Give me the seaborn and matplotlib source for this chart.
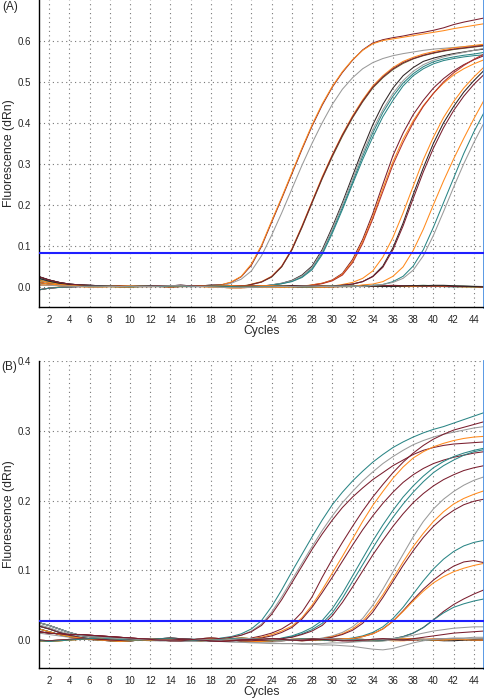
import matplotlib
matplotlib.use('Agg')
import matplotlib.pyplot as plt
from matplotlib.ticker import MultipleLocator, FormatStrFormatter
import seaborn as sns
import pandas as pd

cycles = list(range(1, 46))

# ---------------- panel A ----------------
thr_a = 0.083

a_base1 = [0.024, 0.016, 0.010, 0.006, 0.004, 0.003, 0.002, 0.002, 0.001, 0.001, 0.001, 0.002, 0.002, 0.002, 0.003,
           0.002, 0.002, 0.003, 0.003, 0.002, 0.002, 0.001, 0.001, 0.000, 0.000, 0.001, 0.001, 0.000, 0.000, 0.001,
           0.001, 0.002, 0.002, 0.001, 0.001, 0.002, 0.002, 0.001, 0.001, 0.000, 0.000, -0.001, -0.001, -0.002, -0.002]
a_base2 = [0.015, 0.010, 0.006, 0.004, 0.002, 0.001, 0.000, 0.000, -0.001, -0.001, 0.000, 0.001, 0.001, 0.001, 0.002,
           0.001, 0.001, 0.002, 0.002, 0.001, 0.000, -0.001, -0.002, -0.002, -0.002, -0.001, 0.000, 0.000, 0.001, 0.001,
           0.000, 0.000, 0.001, 0.002, 0.002, 0.001, 0.001, 0.002, 0.003, 0.002, 0.002, 0.001, 0.001, 0.000, 0.000]
a_base3 = [-0.008, -0.004, -0.002, -0.001, 0.000, 0.001, 0.001, 0.001, 0.000, 0.000, 0.001, 0.001, 0.000, 0.001, 0.001,
           0.000, 0.000, 0.001, 0.001, 0.000, -0.001, -0.001, 0.000, 0.000, 0.001, 0.000, -0.001, -0.001, 0.000, 0.001,
           0.001, 0.001, 0.000, 0.000, 0.001, 0.001, 0.002, 0.002, 0.001, 0.001, 0.000, 0.000, 0.001, 0.001, 0.000]
a_base4 = [0.004, 0.003, 0.002, 0.001, 0.000, -0.001, -0.001, 0.000, 0.000, 0.001, 0.000, 0.000, 0.001, 0.002, 0.002,
           0.001, 0.000, -0.001, -0.002, -0.003, -0.003, -0.002, -0.001, -0.001, 0.000, 0.000, 0.001, 0.001, 0.000, 0.000,
           0.001, 0.001, 0.000, 0.001, 0.001, 0.001, 0.000, 0.000, 0.001, 0.001, 0.000, 0.000, -0.001, -0.001, -0.002]
a_base5 = [0.020, 0.013, 0.008, 0.005, 0.003, 0.002, 0.001, 0.001, 0.000, 0.000, 0.000, 0.000, 0.001, 0.001, 0.001,
           0.001, 0.002, 0.002, 0.001, 0.001, 0.000, 0.000, 0.000, 0.001, 0.001, 0.002, 0.002, 0.001, 0.001, 0.000,
           0.000, 0.000, 0.001, 0.001, 0.002, 0.003, 0.002, 0.002, 0.001, 0.001, 0.001, 0.000, 0.000, 0.000, -0.001]
a_base6 = [0.010, 0.006, 0.004, 0.002, 0.001, 0.000, 0.000, 0.001, 0.001, 0.002, 0.001, 0.000, 0.000, -0.001, 0.000,
           0.000, 0.001, 0.001, 0.002, 0.002, 0.001, 0.001, 0.002, 0.002, 0.001, 0.000, -0.001, -0.002, -0.002, -0.001,
           0.000, 0.000, 0.001, 0.001, 0.000, 0.000, 0.001, 0.002, 0.002, 0.003, 0.003, 0.002, 0.001, 0.000, -0.001]

# flat wells: name -> baseline
a_flat = {'A_n1': a_base1, 'A_n2': a_base2, 'A_n3': a_base3, 'A_n4': a_base4, 'A_n5': a_base5, 'A_n6': a_base6}

# amplifying wells: name -> (baseline before rise, first cycle of rise, values from that cycle to 45)
a_amp = {
    'A01': (a_base1, 19, [0.004, 0.010, 0.024, 0.052, 0.098, 0.157, 0.215, 0.275, 0.335, 0.392, 0.443, 0.487, 0.523,
                          0.553, 0.578, 0.595, 0.603, 0.608, 0.612, 0.617, 0.621, 0.626, 0.632, 0.640, 0.646, 0.651, 0.656]),
    'A02': (a_base2, 19, [0.004, 0.011, 0.025, 0.055, 0.101, 0.160, 0.218, 0.278, 0.338, 0.395, 0.446, 0.489, 0.525,
                          0.554, 0.577, 0.593, 0.601, 0.605, 0.609, 0.613, 0.617, 0.621, 0.625, 0.630, 0.634, 0.638, 0.642]),
    'A03': (a_base5, 20, [0.008, 0.018, 0.038, 0.075, 0.125, 0.180, 0.238, 0.296, 0.350, 0.400, 0.445, 0.482, 0.510,
                          0.532, 0.547, 0.557, 0.564, 0.569, 0.573, 0.577, 0.580, 0.582, 0.584, 0.586, 0.588, 0.590]),
    'A04': (a_base4, 22, [0.006, 0.012, 0.025, 0.050, 0.092, 0.148, 0.208, 0.268, 0.322, 0.372, 0.417, 0.456, 0.490,
                          0.515, 0.535, 0.550, 0.560, 0.568, 0.574, 0.579, 0.583, 0.586, 0.589, 0.592]),
    'A05': (a_base6, 22, [0.005, 0.011, 0.023, 0.048, 0.089, 0.144, 0.204, 0.263, 0.317, 0.367, 0.412, 0.451, 0.485,
                          0.510, 0.530, 0.545, 0.556, 0.564, 0.570, 0.575, 0.579, 0.582, 0.585, 0.588]),
    'A06': (a_base3, 22, [0.005, 0.011, 0.024, 0.049, 0.090, 0.146, 0.206, 0.265, 0.320, 0.370, 0.414, 0.453, 0.487,
                          0.512, 0.532, 0.547, 0.557, 0.565, 0.571, 0.576, 0.580, 0.583, 0.586, 0.589]),
    'A07': (a_base1, 24, [0.004, 0.008, 0.015, 0.028, 0.050, 0.090, 0.145, 0.205, 0.270, 0.335, 0.395, 0.445, 0.485,
                          0.515, 0.535, 0.550, 0.558, 0.564, 0.569, 0.573, 0.577, 0.580]),
    'A08': (a_base2, 24, [0.004, 0.007, 0.013, 0.024, 0.044, 0.082, 0.135, 0.193, 0.255, 0.318, 0.375, 0.425, 0.465,
                          0.497, 0.520, 0.537, 0.549, 0.556, 0.561, 0.565, 0.568, 0.572]),
    'A09': (a_base3, 24, [0.004, 0.008, 0.014, 0.026, 0.047, 0.086, 0.140, 0.200, 0.262, 0.325, 0.383, 0.432, 0.472,
                          0.503, 0.526, 0.542, 0.553, 0.561, 0.567, 0.572, 0.577, 0.582]),
    'A10': (a_base5, 24, [0.003, 0.007, 0.012, 0.022, 0.041, 0.078, 0.130, 0.188, 0.250, 0.310, 0.365, 0.415, 0.455,
                          0.490, 0.515, 0.532, 0.544, 0.552, 0.557, 0.561, 0.564, 0.566]),
    'A11': (a_base6, 28, [0.004, 0.008, 0.016, 0.032, 0.066, 0.115, 0.178, 0.250, 0.320, 0.375, 0.420, 0.455, 0.485,
                          0.508, 0.527, 0.542, 0.554, 0.564]),
    'A12': (a_base4, 28, [0.004, 0.008, 0.015, 0.030, 0.062, 0.110, 0.170, 0.240, 0.305, 0.360, 0.405, 0.442, 0.472,
                          0.497, 0.517, 0.532, 0.544, 0.554]),
    'A13': (a_base3, 28, [0.003, 0.007, 0.014, 0.028, 0.058, 0.105, 0.165, 0.232, 0.298, 0.352, 0.400, 0.440, 0.472,
                          0.500, 0.522, 0.540, 0.555, 0.568]),
    'A14': (a_base2, 31, [0.005, 0.010, 0.020, 0.038, 0.072, 0.120, 0.180, 0.245, 0.310, 0.365, 0.413, 0.452, 0.485,
                          0.512, 0.536]),
    'A15': (a_base5, 31, [0.003, 0.006, 0.012, 0.025, 0.050, 0.095, 0.155, 0.225, 0.290, 0.350, 0.400, 0.440, 0.475,
                          0.503, 0.528]),
    'A16': (a_base1, 31, [0.003, 0.006, 0.012, 0.024, 0.047, 0.090, 0.148, 0.215, 0.280, 0.338, 0.388, 0.430, 0.465,
                          0.494, 0.518]),
    'A17': (a_base6, 33, [0.004, 0.006, 0.012, 0.025, 0.048, 0.088, 0.140, 0.200, 0.258, 0.312, 0.362, 0.410, 0.455]),
    'A18': (a_base3, 34, [0.003, 0.005, 0.012, 0.025, 0.050, 0.090, 0.145, 0.205, 0.265, 0.325, 0.378, 0.425]),
    'A19': (a_base4, 34, [0.003, 0.005, 0.010, 0.020, 0.040, 0.075, 0.125, 0.183, 0.243, 0.300, 0.352, 0.400]),
}

# ---------------- panel B ----------------
thr_b = 0.028

b_base1 = [0.025, 0.021, 0.016, 0.011, 0.007, 0.005, 0.004, 0.003, 0.002, 0.002, 0.001, 0.001, 0.000, 0.000, 0.001,
           0.001, 0.001, 0.000, 0.000, 0.001, 0.002, 0.002, 0.001, 0.001, 0.000, 0.000, 0.001, 0.001, 0.002, 0.002,
           0.001, 0.000, 0.000, 0.001, 0.001, 0.002, 0.002, 0.001, 0.001, 0.000, 0.000, 0.001, 0.001, 0.000, 0.000]
b_base2 = [0.020, 0.016, 0.011, 0.007, 0.004, 0.002, 0.001, 0.000, -0.001, -0.001, 0.000, 0.001, 0.002, 0.003, 0.002,
           0.001, 0.000, -0.001, -0.001, 0.000, 0.001, 0.001, 0.000, -0.001, -0.001, 0.000, 0.001, 0.002, 0.002, 0.001,
           0.000, -0.001, -0.002, -0.002, -0.001, 0.000, 0.001, 0.001, 0.000, 0.000, 0.001, 0.002, 0.001, 0.000, 0.000]
b_base3 = [0.000, -0.001, 0.000, 0.001, 0.002, 0.002, 0.001, 0.000, 0.000, 0.001, 0.002, 0.001, 0.000, -0.001, -0.001,
           0.000, 0.002, 0.003, 0.002, 0.000, -0.001, -0.001, 0.000, 0.001, 0.001, 0.000, -0.001, 0.000, 0.001, 0.002,
           0.001, 0.000, 0.000, 0.001, 0.000, -0.001, -0.001, 0.000, 0.001, 0.002, 0.001, 0.000, 0.000, 0.001, 0.001]
b_base4 = [0.012, 0.010, 0.009, 0.008, 0.008, 0.007, 0.006, 0.005, 0.004, 0.003, 0.002, 0.001, 0.000, 0.000, 0.001,
           0.001, 0.000, -0.001, -0.002, -0.001, 0.000, 0.001, 0.001, 0.002, 0.001, 0.000, 0.000, 0.001, 0.001, 0.000,
           -0.001, -0.001, 0.000, 0.001, 0.002, 0.001, 0.000, 0.000, 0.001, 0.001, 0.002, 0.002, 0.001, 0.000, 0.000]
b_base5 = [0.016, 0.012, 0.008, 0.005, 0.003, 0.001, 0.000, -0.001, -0.002, -0.001, 0.000, 0.000, 0.001, 0.001, 0.000,
           0.000, 0.001, 0.002, 0.001, 0.000, -0.001, -0.002, -0.002, -0.001, 0.000, 0.001, 0.001, 0.000, 0.000, 0.001,
           0.002, 0.002, 0.001, 0.000, 0.000, 0.001, 0.001, 0.002, 0.001, 0.000, -0.001, -0.001, 0.000, 0.001, 0.002]
b_base6 = [-0.001, -0.002, -0.001, 0.000, 0.001, 0.002, 0.003, 0.002, 0.001, 0.000, 0.000, 0.001, 0.002, 0.002, 0.001,
           0.000, -0.001, 0.000, 0.001, 0.002, 0.003, 0.002, 0.001, 0.000, 0.000, 0.001, 0.002, 0.001, 0.000, -0.001,
           0.000, 0.001, 0.001, 0.000, 0.000, 0.001, 0.002, 0.002, 0.001, 0.000, 0.000, 0.001, 0.001, 0.000, 0.000]
b_dip1 = [0.010, 0.008, 0.006, 0.004, 0.002, 0.001, 0.000, 0.000, 0.000, 0.000, 0.000, -0.001, -0.001, -0.001, -0.002,
          -0.002, -0.002, -0.002, -0.002, -0.002, -0.003, -0.003, -0.004, -0.004, -0.005, -0.005, -0.006, -0.006, -0.007,
          -0.007, -0.008, -0.009, -0.011, -0.013, -0.014, -0.012, -0.008, -0.004, -0.001, 0.001, 0.002, 0.003, 0.003,
          0.004, 0.004]
b_dip2 = [0.022, 0.018, 0.013, 0.009, 0.006, 0.004, 0.003, 0.002, 0.001, 0.000, 0.000, 0.000, -0.001, -0.001, -0.001,
          -0.001, -0.002, -0.002, -0.002, -0.003, -0.003, -0.004, -0.004, -0.005, -0.005, -0.005, -0.005, -0.005, -0.005,
          -0.004, -0.004, -0.003, -0.002, -0.002, -0.001, 0.000, 0.000, 0.001, 0.001, 0.001, 0.002, 0.002, 0.002, 0.002,
          0.002]

b_flat = {'B_n1': b_base1, 'B_n2': b_base2, 'B_n3': b_base3, 'B_n4': b_base4, 'B_n5': b_base5, 'B_n6': b_base6,
          'B_d1': b_dip1, 'B_d2': b_dip2}

b_amp = {
    'B01': (b_base1, 19, [0.003, 0.005, 0.009, 0.016, 0.028, 0.048, 0.072, 0.098, 0.123, 0.148, 0.172, 0.194, 0.212,
                          0.228, 0.242, 0.255, 0.266, 0.276, 0.284, 0.291, 0.297, 0.302, 0.306, 0.311, 0.316, 0.321, 0.326]),
    'B02': (b_base2, 19, [0.002, 0.004, 0.007, 0.013, 0.023, 0.040, 0.062, 0.086, 0.110, 0.134, 0.157, 0.178, 0.197,
                          0.213, 0.228, 0.241, 0.253, 0.263, 0.272, 0.280, 0.286, 0.291, 0.295, 0.298, 0.301, 0.304, 0.306]),
    'B03': (b_base4, 19, [0.002, 0.004, 0.007, 0.012, 0.021, 0.037, 0.058, 0.082, 0.106, 0.130, 0.152, 0.172, 0.190,
                          0.205, 0.218, 0.230, 0.240, 0.250, 0.258, 0.266, 0.272, 0.276, 0.279, 0.281, 0.282, 0.283, 0.284]),
    'B04': (b_base5, 22, [0.003, 0.006, 0.010, 0.016, 0.025, 0.040, 0.062, 0.090, 0.116, 0.140, 0.163, 0.185, 0.205,
                          0.223, 0.240, 0.255, 0.268, 0.279, 0.288, 0.295, 0.301, 0.305, 0.309, 0.313]),
    'B05': (b_base6, 22, [0.002, 0.004, 0.008, 0.013, 0.020, 0.032, 0.050, 0.072, 0.096, 0.120, 0.145, 0.170, 0.193,
                          0.213, 0.232, 0.248, 0.261, 0.270, 0.277, 0.282, 0.286, 0.289, 0.291, 0.292]),
    'B06': (b_base3, 22, [0.002, 0.003, 0.006, 0.011, 0.018, 0.030, 0.047, 0.068, 0.090, 0.113, 0.136, 0.158, 0.178,
                          0.196, 0.212, 0.226, 0.237, 0.246, 0.253, 0.258, 0.262, 0.265, 0.268, 0.270]),
    'B07': (b_base2, 25, [0.003, 0.006, 0.011, 0.018, 0.028, 0.045, 0.067, 0.092, 0.117, 0.142, 0.165, 0.186, 0.205,
                          0.221, 0.235, 0.247, 0.256, 0.263, 0.268, 0.272, 0.275]),
    'B08': (b_base5, 25, [0.002, 0.005, 0.009, 0.015, 0.024, 0.039, 0.060, 0.084, 0.108, 0.132, 0.155, 0.176, 0.195,
                          0.212, 0.227, 0.240, 0.250, 0.258, 0.265, 0.270, 0.273]),
    'B09': (b_base1, 25, [0.002, 0.004, 0.008, 0.013, 0.021, 0.035, 0.054, 0.076, 0.099, 0.122, 0.143, 0.163, 0.181,
                          0.197, 0.210, 0.221, 0.230, 0.237, 0.243, 0.247, 0.250]),
    'B10': (b_base3, 29, [0.003, 0.006, 0.011, 0.019, 0.031, 0.050, 0.073, 0.098, 0.123, 0.148, 0.170, 0.188, 0.202,
                          0.213, 0.222, 0.229, 0.234]),
    'B11': (b_base6, 29, [0.002, 0.005, 0.009, 0.016, 0.027, 0.044, 0.065, 0.088, 0.112, 0.134, 0.153, 0.170, 0.184,
                          0.195, 0.203, 0.209, 0.214]),
    'B12': (b_base4, 29, [0.002, 0.004, 0.008, 0.014, 0.024, 0.040, 0.061, 0.084, 0.107, 0.128, 0.147, 0.163, 0.176,
                          0.186, 0.194, 0.199, 0.202]),
    'B13': (b_base1, 32, [0.003, 0.006, 0.011, 0.019, 0.031, 0.047, 0.066, 0.085, 0.102, 0.116, 0.127, 0.135, 0.140,
                          0.143]),
    'B14': (b_base2, 32, [0.002, 0.005, 0.009, 0.016, 0.027, 0.042, 0.058, 0.073, 0.086, 0.097, 0.106, 0.112, 0.114,
                          0.111]),
    'B15': (b_base5, 32, [0.002, 0.005, 0.009, 0.016, 0.027, 0.041, 0.056, 0.070, 0.082, 0.091, 0.098, 0.103, 0.107,
                          0.110]),
    'B16': (b_base3, 36, [0.002, 0.005, 0.010, 0.018, 0.029, 0.041, 0.051, 0.059, 0.066, 0.072]),
    'B17': (b_base6, 36, [0.002, 0.005, 0.010, 0.018, 0.029, 0.039, 0.047, 0.052, 0.056, 0.059]),
    'B18': (b_base1, 36, [0.002, 0.004, 0.007, 0.010, 0.013, 0.015, 0.017, 0.018, 0.019, 0.019]),
    'B19': (b_base4, 38, [0.002, 0.004, 0.006, 0.008, 0.010, 0.011, 0.012, 0.013]),
}

# colours per well
maroon, orange, gray, teal = '#7a1e2e', '#ff8a1c', '#9a9a9a', '#2a8585'
dark, red, olive, green = '#2e2424', '#b5332b', '#6a6a30', '#1f6b3a'

colors = {
    'A_n1': teal, 'A_n2': green, 'A_n3': gray, 'A_n4': orange, 'A_n5': maroon, 'A_n6': dark,
    'A01': maroon, 'A02': orange, 'A03': gray, 'A04': orange, 'A05': olive, 'A06': maroon,
    'A07': dark, 'A08': teal, 'A09': gray, 'A10': teal, 'A11': maroon, 'A12': orange, 'A13': red,
    'A14': orange, 'A15': dark, 'A16': maroon, 'A17': orange, 'A18': teal, 'A19': gray,
    'B_n1': teal, 'B_n2': green, 'B_n3': orange, 'B_n4': maroon, 'B_n5': dark, 'B_n6': orange,
    'B_d1': gray, 'B_d2': gray,
    'B01': teal, 'B02': gray, 'B03': maroon, 'B04': maroon, 'B05': orange, 'B06': maroon,
    'B07': teal, 'B08': teal, 'B09': maroon, 'B10': gray, 'B11': orange, 'B12': maroon,
    'B13': teal, 'B14': maroon, 'B15': orange, 'B16': maroon, 'B17': teal, 'B18': gray, 'B19': maroon,
}


def long_table(flat, amp):
    rows = []
    for name, vals in flat.items():
        for c, v in zip(cycles, vals):
            rows.append((name, c, v))
    for name, (base, start, rise) in amp.items():
        vals = list(base[:start - 1]) + list(rise)
        assert len(vals) == len(cycles), name
        for c, v in zip(cycles, vals):
            rows.append((name, c, v))
    return pd.DataFrame(rows, columns=['well', 'Cycles', 'dRn'])


df_a = long_table(a_flat, a_amp)
df_b = long_table(b_flat, b_amp)

sns.set_style('white')
plt.rcParams['font.family'] = ['Liberation Sans', 'DejaVu Sans']

fig = plt.figure(figsize=(4.85, 6.99), dpi=100)
ax_a = fig.add_axes([39 / 485, 1 - 307 / 699, 445 / 485, 307 / 699])
ax_b = fig.add_axes([39 / 485, 1 - 668 / 699, 445 / 485, 307 / 699])


def style_axis(ax, df, thr, ylim, yticks):
    sns.lineplot(data=df, x='Cycles', y='dRn', hue='well', palette=colors, estimator=None,
                 legend=False, linewidth=0.75, ax=ax)
    ax.axhline(thr, color='#1f1fff', linewidth=1.5, zorder=5)
    ax.set_xlim(1, 45)
    ax.set_ylim(*ylim)
    ax.set_xticks(list(range(2, 45, 2)))
    ax.xaxis.set_minor_locator(MultipleLocator(1))
    ax.set_yticks(yticks)
    ax.yaxis.set_minor_locator(MultipleLocator(0.05))
    ax.yaxis.set_major_formatter(FormatStrFormatter('%.1f'))
    ax.tick_params(which='both', direction='out', labelsize=7, color='black', pad=2.5)
    ax.tick_params(which='major', length=3.5, width=0.8)
    ax.tick_params(which='minor', length=2.5, width=0.8)
    ax.grid(True, which='major', linestyle=(0, (1, 3)), color='#777777', linewidth=0.8)
    for side in ['left', 'bottom']:
        ax.spines[side].set_color('black')
        ax.spines[side].set_linewidth(1.0)
    ax.spines['top'].set_visible(False)
    ax.spines['right'].set_color('#4a90e2')
    ax.spines['right'].set_linewidth(2.0)
    ax.set_xlabel('Cycles', fontsize=8.7)
    ax.set_ylabel('Fluorescence (dRn)', fontsize=8.8)
    ax.xaxis.set_label_coords(0.5, -0.058)
    ax.yaxis.set_label_coords(-0.055, 0.5)


style_axis(ax_a, df_a, thr_a, (-0.05, 0.70), [0.0, 0.1, 0.2, 0.3, 0.4, 0.5, 0.6])
style_axis(ax_b, df_b, thr_b, (-0.04, 0.40), [0.0, 0.1, 0.2, 0.3, 0.4])

fig.text(2 / 485, 1 - 7 / 699, '(A)', fontsize=8.5, ha='left', va='center')
fig.text(1 / 485, 1 - 367 / 699, '(B)', fontsize=8.5, ha='left', va='center')

fig.savefig('out.png', dpi=100)
